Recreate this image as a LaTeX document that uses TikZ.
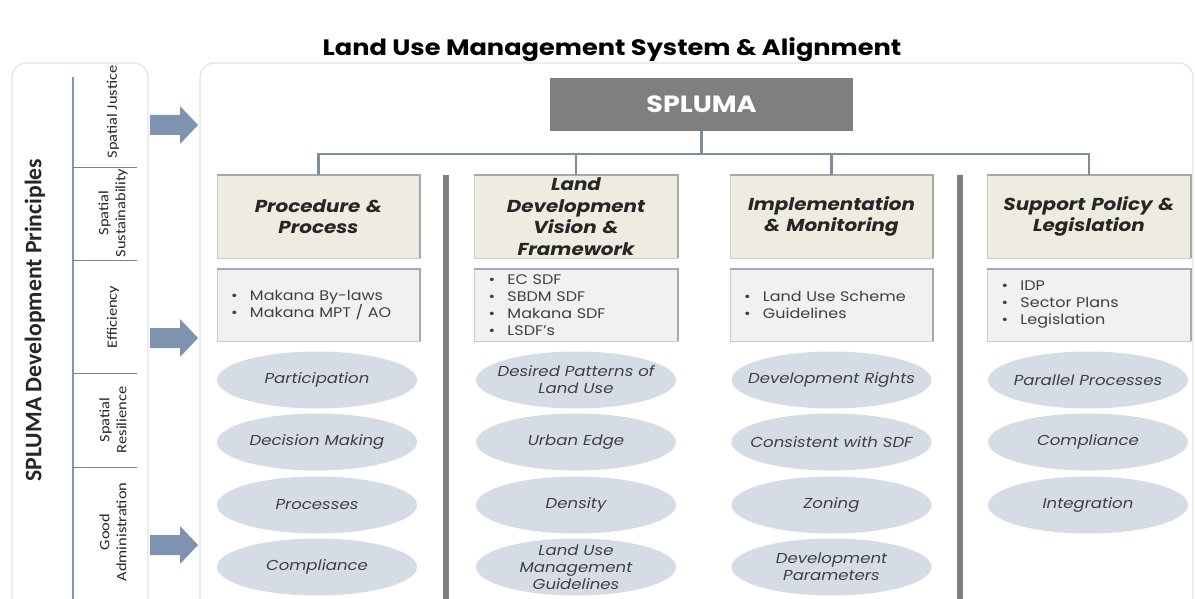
\documentclass[tikz,border=0pt]{standalone}
\usepackage{fontspec}
\setmainfont{Poppins}[FakeStretch=1.15]
\newfontfamily\calib{Carlito}[FakeStretch=1.15]
\newfontfamily\calibt{Carlito}
\usetikzlibrary{shapes.geometric}
\definecolor{panelborder}{HTML}{E2E2E2}
\definecolor{headfill}{HTML}{EEEBE1}
\definecolor{listfill}{HTML}{F1F1F1}
\definecolor{ellfill}{HTML}{D6DCE5}
\definecolor{busline}{HTML}{7F8E9E}
\definecolor{sepbar}{HTML}{7F7F7F}
\definecolor{arrowfill}{HTML}{7E93B0}
\definecolor{spfill}{HTML}{7F7F7F}
\definecolor{edgeshade}{HTML}{A8A8A8}
\definecolor{txtdark}{HTML}{262626}
\definecolor{txtgray}{HTML}{404040}
\definecolor{leftline}{HTML}{8497B0}
\newcommand{\bl}[1]{\makebox[19pt][l]{\textbullet}#1}
\begin{document}
\begin{tikzpicture}[x=1pt,y=-1pt,
  panel/.style={draw=panelborder,line width=1.2pt,rounded corners=14pt,fill=white},
  headbox/.style={draw=edgeshade!60,line width=0.6pt,fill=headfill,minimum width=203pt,minimum height=83pt,inner sep=2pt,text width=199pt,align=center,font=\bfseries\itshape\fontsize{17.3}{21.5}\selectfont,text=txtdark},
  listbox/.style={draw=edgeshade!60,line width=0.6pt,fill=listfill,minimum width=203pt,minimum height=72pt,inner xsep=14pt,inner ysep=2pt,text width=175pt,align=left,font=\fontsize{13.9}{17}\selectfont,text=txtgray},
  ellnode/.style={ellipse,fill=ellfill,minimum width=200pt,minimum height=57pt,inner sep=0pt},
  elltext/.style={inner sep=0pt,align=center,font=\itshape\fontsize{14.4}{17}\selectfont,text=txtgray},
  shadeedge/.style={draw=edgeshade,line width=2.2pt},
  bus/.style={draw=busline,line width=2.6pt},
  sepline/.style={draw=sepbar,line width=6pt},
  blockarrow/.style={fill=arrowfill},
  princ/.style={rotate=90,align=center,font=\calib\fontsize{14.3}{17}\selectfont,text=txtdark},
]
\useasboundingbox (0,0) rectangle (1195,599);
\fill[white] (0,0) rectangle (1195,599);

% title
\node[font=\bfseries\fontsize{22.3}{26}\selectfont,text=black] (title) at (612,49.5) {Land Use Management System \& Alignment};

% panels
\draw[panel] (12,63) rectangle (148,640);
\draw[panel] (200,63) rectangle (1193,640);

% left panel contents
\node[rotate=90,font=\calibt\bfseries\fontsize{23.7}{26}\selectfont,text=txtdark] (lefttitle) at (35,320) {SPLUMA Development Principles};
\draw[draw=leftline,line width=2pt] (73,77) -- (73,605);
\foreach \yy in {167,260,373,467} \draw[draw=sepbar,line width=0.8pt] (73,\yy) -- (137,\yy);
\node[princ] (p1) at (113,112) {Spatial Justice};
\node[princ] (p2) at (113,213) {Spatial\\Sustainability};
\node[princ] (p3) at (113,317) {Efficiency};
\node[princ] (p4) at (113,420) {Spatial\\Resilience};
\node[princ] (p5) at (113,532) {Good\\Administration};

% block arrows
\foreach \yy in {125,338,545} {
  \fill[blockarrow] (150,\yy-10) -- (180,\yy-10) -- (180,\yy-19) -- (198,\yy) -- (180,\yy+19) -- (180,\yy+10) -- (150,\yy+10) -- cycle;
}

% SPLUMA
\node[fill=spfill,minimum width=303pt,minimum height=53pt,inner sep=0pt,font=\bfseries\fontsize{23.5}{26}\selectfont,text=white] (sp) at (701.5,104.5) {SPLUMA};

% separators
\draw[sepline] (446,175) -- (446,610);
\draw[sepline] (960,175) -- (960,610);

% headers
\node[headbox] (h1) at (318.5,216.5) {Procedure \&\\Process};
\node[headbox] (h2) at (576,216.5) {Land\\Development\\Vision \&\\Framework};
\node[headbox] (h3) at (831.5,216.5) {Implementation\\\& Monitoring};
\node[headbox] (h4) at (1089,216.5) {Support Policy \&\\Legislation};
\foreach \n in {h1,h2,h3,h4} \draw[shadeedge] (\n.north west) -- (\n.north east) -- (\n.south east);

% bus
\coordinate (bus) at (701.5,154);
\draw[bus] (sp.south) -- (bus);
\draw[bus] (h1.north) -- (h1.north |- bus) -- (h4.north |- bus) -- (h4.north);
\draw[bus] (h2.north) -- (h2.north |- bus);
\draw[bus] (h3.north) -- (h3.north |- bus);

% lists
\node[listbox] (l1) at (318.5,305) {\bl{Makana By-laws}\\\bl{Makana MPT / AO}};
\node[listbox] (l2) at (576,305) {\bl{EC SDF}\\\bl{SBDM SDF}\\\bl{Makana SDF}\\\bl{LSDF's}};
\node[listbox] (l3) at (831.5,305) {\bl{Land Use Scheme}\\\bl{Guidelines}};
\node[listbox] (l4) at (1089,305) {\bl{IDP}\\\bl{Sector Plans}\\\bl{Legislation}};
\foreach \n in {l1,l2,l3,l4} \draw[shadeedge] (\n.north west) -- (\n.north east) -- (\n.south east);

% ellipses
\foreach \nm/\xx/\yy in {e11/317/380,e12/317/442,e13/317/505,e14/317/567,
  e21/576/380,e22/576/442,e23/576/505,e24/576/567,
  e31/831.5/380,e32/831.5/442,e33/831.5/505,e34/831.5/567,
  e41/1088/380,e42/1088/442,e43/1088/505}
  \node[ellnode] (\nm) at (\xx,\yy) {};
\node[elltext] (t11) at (e11) {Participation};
\node[elltext] (t12) at (e12) {Decision Making};
\node[elltext] (t13) at (e13) {Processes};
\node[elltext] (t14) at (e14) {Compliance};
\node[elltext] (t21) at (e21) {Desired Patterns of\\Land Use};
\node[elltext] (t22) at (e22) {Urban Edge};
\node[elltext] (t23) at (e23) {Density};
\node[elltext] (t24) at (e24) {Land Use\\Management\\Guidelines};
\node[elltext] (t31) at (e31) {Development Rights};
\node[elltext] (t32) at (e32) {Consistent with SDF};
\node[elltext] (t33) at (e33) {Zoning};
\node[elltext] (t34) at (e34) {Development\\Parameters};
\node[elltext] (t41) at (e41) {Parallel Processes};
\node[elltext] (t42) at (e42) {Compliance};
\node[elltext] (t43) at (e43) {Integration};
\end{tikzpicture}
\end{document}
